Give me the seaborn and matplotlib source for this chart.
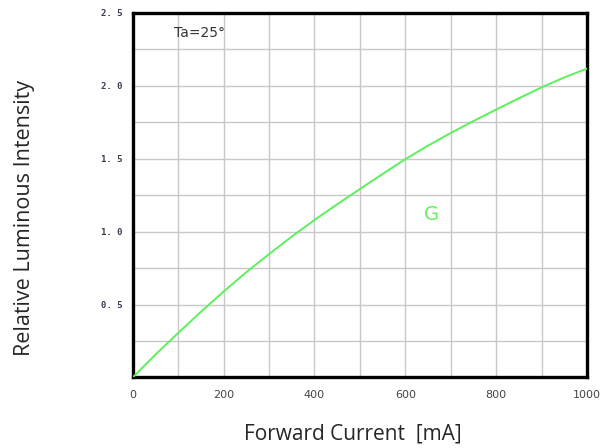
import numpy as np
import pandas as pd
import matplotlib
matplotlib.use("Agg")
import matplotlib.pyplot as plt
import seaborn as sns

# values
current_ma = [0, 50, 100, 150, 200, 250, 300, 350, 400, 450, 500,
              550, 600, 650, 700, 750, 800, 850, 900, 950, 1000]
rel_intensity = [0.0, 0.157, 0.305, 0.45, 0.589, 0.722, 0.846, 0.966, 1.08,
                 1.188, 1.292, 1.396, 1.497, 1.59, 1.677, 1.759, 1.838, 1.915,
                 1.99, 2.058, 2.119]

x_ticks = [0, 200, 400, 600, 800, 1000]
y_ticks = [0.5, 1.0, 1.5, 2.0, 2.5]
y_tick_labels = ["0. 5", "1. 0", "1. 5", "2. 0", "2. 5"]

df = pd.DataFrame({"current": current_ma, "intensity": rel_intensity})

sns.set_style("white")

fig = plt.figure(figsize=(6.16, 4.48), dpi=100)
ax = fig.add_axes([0.2154, 0.1574, 0.7376, 0.8136])

sns.lineplot(data=df, x="current", y="intensity", ax=ax, color="#5cf05c",
             linewidth=1.4, zorder=3)

ax.set_xlim(0, 1000)
ax.set_ylim(0, 2.5)

# grid every 100 mA / 0.25
ax.set_xticks(np.arange(0, 1001, 100), minor=True)
ax.set_yticks(np.arange(0, 2.51, 0.25), minor=True)
ax.grid(which="minor", color="#c8c8c8", linewidth=1.0)
ax.grid(which="major", color="#c8c8c8", linewidth=1.0)

ax.set_xticks(x_ticks)
ax.set_xticklabels([str(v) for v in x_ticks], fontsize=8, color="#444444",
                   family="DejaVu Sans")
ax.set_yticks(y_ticks)
ax.set_yticklabels(y_tick_labels, fontsize=6.5, color="#3a3a50",
                   family="DejaVu Sans Mono", fontweight="bold")
ax.tick_params(axis="x", which="both", length=0, pad=9)
ax.tick_params(axis="y", which="both", length=0, pad=7)

for s in ax.spines.values():
    s.set_color("black")
    s.set_linewidth(2.4)
    s.set_visible(True)

ax.set_xlabel("")
ax.set_ylabel("")
fig.text(0.573, 0.032, "Forward Current  [mA]", fontsize=15,
         family="Open Sans", ha="center", va="center")
fig.text(0.039, 0.513, "Relative Luminous Intensity", fontsize=15.5,
         family="Open Sans", ha="center", va="center", rotation=90)

ax.text(148, 2.36, "Ta=25°", fontsize=10, color="#333333", ha="center",
        va="center", family="DejaVu Sans")
ax.text(658, 1.12, "G", fontsize=14, color="#66ee66", ha="center",
        va="center", family="DejaVu Sans")

fig.savefig("out.png", dpi=100)
